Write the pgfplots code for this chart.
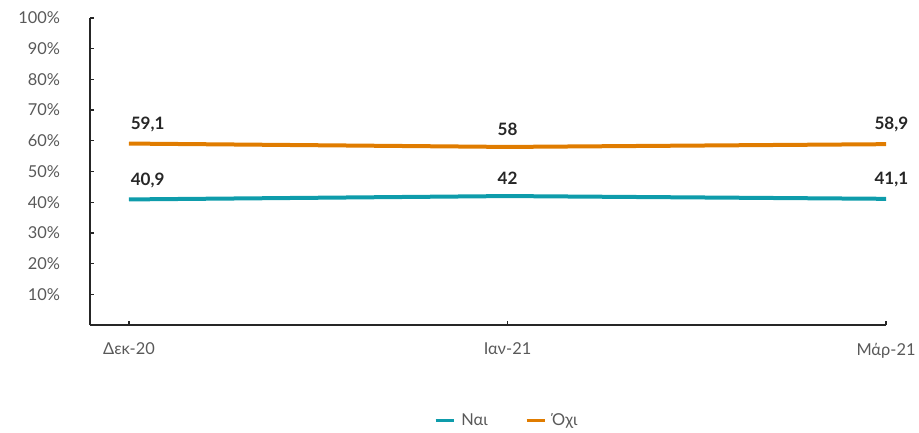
\documentclass[border=0pt]{standalone}
\usepackage{pgfplots}
\pgfplotsset{compat=1.18}
\usepackage{pgfplotstable}
\usepackage{fontspec}
\setmainfont{Lato}
\definecolor{teal1}{HTML}{0E9CAB}
\definecolor{orng}{HTML}{E07C00}
\definecolor{tickgray}{HTML}{595959}
\definecolor{lblgray}{HTML}{262626}
\pgfplotstableread{
x y lbl dx
0 40.9 {40,9} 14
1 42.0 {42} 0
2 41.1 {41,1} 4
}\nai
\pgfplotstableread{
x y lbl dx
0 59.1 {59,1} 14
1 58.0 {58} 0
2 58.9 {58,9} 4
}\ochi
\begin{document}
\begin{tikzpicture}
\path[use as bounding box] (0,0) rectangle (689.25pt,324pt);
\begin{axis}[
  at={(67.5pt,80.25pt)}, anchor=south west,
  scale only axis, width=597pt, height=230.25pt,
  xmin=-0.103, xmax=2, ymin=0, ymax=100,
  axis x line*=bottom, axis y line*=left,
  axis line style={draw=black!85, line width=0.9pt},
  xtick={0,1,2}, xticklabels={Δεκ-20,Ιαν-21,Μάρ-21},
  ytick={10,20,...,100},
  yticklabels={10\%,20\%,30\%,40\%,50\%,60\%,70\%,80\%,90\%,100\%},
  tick align=inside, major tick length=3pt,
  tick style={draw=black!85, line width=0.9pt},
  ticklabel style={font=\fontsize{12.3}{14}\selectfont, text=tickgray},
  yticklabel style={xshift=-19pt},
  xticklabel style={yshift=-10pt},
  legend columns=2,
  legend style={draw=none, at={(0.524,-0.31)}, anchor=center,
    font=\fontsize{12.3}{14}\selectfont, text=tickgray,
    /tikz/every even column/.append style={column sep=26pt},
    /tikz/every odd column/.append style={column sep=2pt}},
  legend image code/.code={\draw[#1, line width=2.4pt] (0pt,0pt) -- (14pt,0pt);},
  point meta=explicit symbolic,
  nodes near coords,
  visualization depends on={\thisrow{dx} \as \dx},
  nodes near coords style={font=\bfseries\fontsize{12.8}{14}\selectfont, text=lblgray, anchor=south, yshift=4pt, xshift=\dx pt},
  clip=false,
]
\addplot[teal1, line width=3pt] table[x=x, y=y, meta=lbl] {\nai};
\addlegendentry{Ναι}
\addplot[orng, line width=3pt] table[x=x, y=y, meta=lbl] {\ochi};
\addlegendentry{Όχι}
\end{axis}
\end{tikzpicture}
\end{document}
